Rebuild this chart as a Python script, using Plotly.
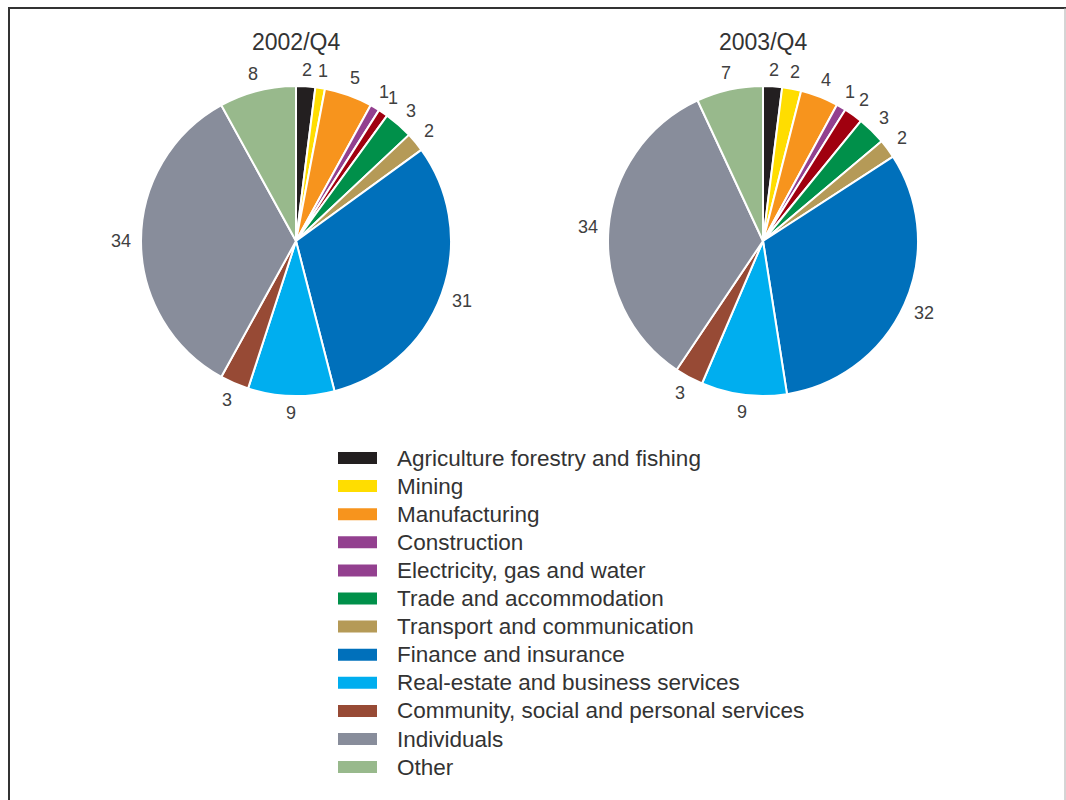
import math
import plotly.graph_objects as go

categories = [
    "Agriculture forestry and fishing",
    "Mining",
    "Manufacturing",
    "Construction",
    "Electricity, gas and water",
    "Trade and accommodation",
    "Transport and communication",
    "Finance and insurance",
    "Real-estate and business services",
    "Community, social and personal services",
    "Individuals",
    "Other",
]
values_2002 = [2, 1, 5, 1, 1, 3, 2, 31, 9, 3, 34, 8]
values_2003 = [2, 2, 4, 1, 2, 3, 2, 32, 9, 3, 34, 7]
titles = ["2002/Q4", "2003/Q4"]

slice_colors = ["#231f20", "#ffdd00", "#f7941d", "#93408f", "#a0000f", "#00904a",
                "#b59a57", "#0070bb", "#00aeef", "#974a35", "#888d9b", "#98b98c"]
legend_colors = ["#231f20", "#ffdd00", "#f7941d", "#93408f", "#93408f", "#00904a",
                 "#b59a57", "#0070bb", "#00aeef", "#974a35", "#888d9b", "#98b98c"]

W, H = 1066, 800
FONT = "Liberation Sans, Arial, sans-serif"
LABEL_SIZE = 18

# pie geometry (pixels)
centers = [(296, 241), (763, 241)]
R = 155

fig = go.Figure()
annotations = []
for vals, (cx, cy), name in zip([values_2002, values_2003], centers, titles):
    dom = dict(x=[(cx - R) / W, (cx + R) / W], y=[1 - (cy + R) / H, 1 - (cy - R) / H])
    fig.add_trace(go.Pie(
        labels=categories, values=vals, name=name, domain=dom,
        sort=False, direction="clockwise", rotation=0,
        marker=dict(colors=slice_colors, line=dict(color="white", width=2)),
        textinfo="none",
        showlegend=False, hoverinfo="label+value",
    ))
    # value labels placed just outside each slice's mid-angle
    total = sum(vals)
    cum = 0
    for v in vals:
        mid = (cum + v / 2) / total * 2 * math.pi
        cum += v
        sx, sy = math.sin(mid), -math.cos(mid)
        txt = str(v)
        tw = 0.556 * LABEL_SIZE * len(txt)
        th = 0.72 * LABEL_SIZE
        d = R + 10 + abs(sx) * tw / 2 + abs(sy) * th / 2
        annotations.append(dict(x=(cx + sx * d) / W, y=1 - (cy + sy * d) / H,
                                xref="paper", yref="paper", text=txt, showarrow=False,
                                xanchor="center", yanchor="middle",
                                font=dict(size=LABEL_SIZE, color="#404040", family=FONT)))
    annotations.append(dict(x=cx / W, y=1 - 42 / H, xref="paper", yref="paper",
                            text=name, showarrow=False, xanchor="center", yanchor="middle",
                            font=dict(size=23, color="#333333", family=FONT)))

shapes = []
row0, step = 458, 28.1
for i, (cat, col) in enumerate(zip(categories, legend_colors)):
    yc = row0 + i * step
    shapes.append(dict(type="rect", xref="paper", yref="paper",
                       x0=338 / W, x1=377 / W, y0=1 - (yc - 6) / H, y1=1 - (yc + 6) / H,
                       fillcolor=col, line=dict(width=0)))
    annotations.append(dict(x=395 / W, y=1 - yc / H, xref="paper", yref="paper",
                            text=cat, showarrow=False, xanchor="left", yanchor="middle",
                            font=dict(size=22.5, color="#333333", family=FONT)))

# frame
shapes.append(dict(type="line", xref="paper", yref="paper", x0=8 / W, x1=1, y0=1 - 8 / H, y1=1 - 8 / H,
                   line=dict(color="#333333", width=2)))
shapes.append(dict(type="line", xref="paper", yref="paper", x0=9 / W, x1=9 / W, y0=1 - 7 / H, y1=0,
                   line=dict(color="#333333", width=2)))
shapes.append(dict(type="line", xref="paper", yref="paper", x0=1065 / W, x1=1065 / W, y0=1 - 8 / H, y1=0,
                   line=dict(color="#aaaaaa", width=1)))

fig.update_layout(
    width=W, height=H, margin=dict(l=0, r=0, t=0, b=0),
    paper_bgcolor="white", plot_bgcolor="white",
    annotations=annotations, shapes=shapes,
    font=dict(family=FONT),
)
fig.write_html("out.html")
